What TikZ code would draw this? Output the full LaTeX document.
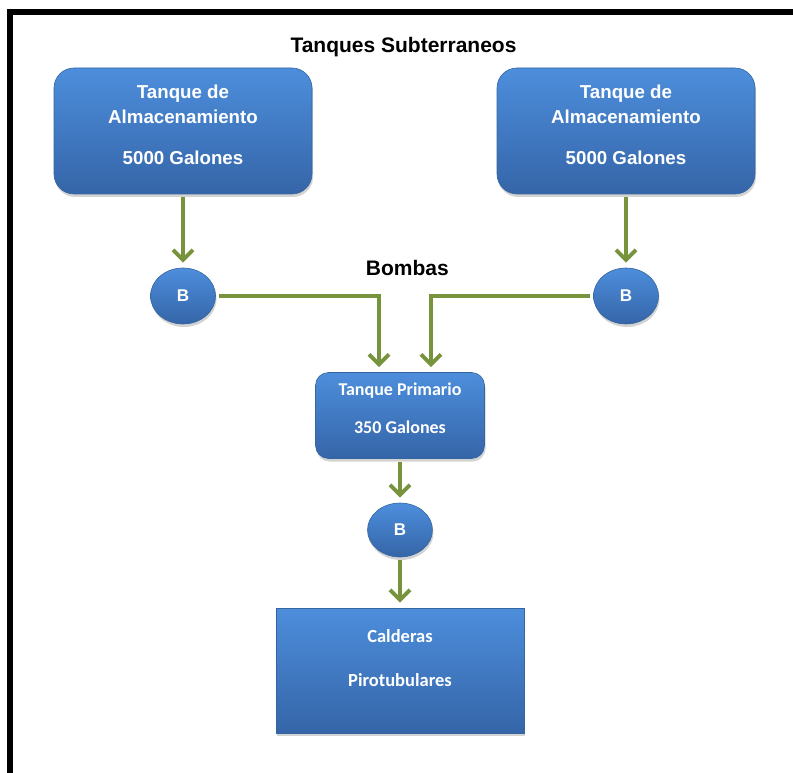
\documentclass[tikz,border=0pt]{standalone}
\usepackage{fontspec}
\setmainfont{Liberation Sans}
\newfontfamily\calibri{Carlito}
\usetikzlibrary{arrows.meta,shapes.geometric,shadows}
\definecolor{azulclaro}{HTML}{4D8EDC}
\definecolor{azuloscuro}{HTML}{3565A8}
\definecolor{azulborde}{HTML}{35659F}
\definecolor{verdetubo}{HTML}{77933C}

\begin{document}
\begin{tikzpicture}[x=1pt,y=-1pt,
        caja/.style={draw=azulborde,line width=0.6pt,top color=azulclaro,bottom color=azuloscuro,drop shadow={opacity=0.35,shadow xshift=1pt,shadow yshift=-3pt}},
        tanque/.style={caja,rounded corners=20pt,minimum width=258pt,minimum height=126pt},
        tanquechico/.style={caja,rounded corners=13pt,minimum width=169pt,minimum height=86pt},
        caldera/.style={caja,minimum width=248pt,minimum height=125pt},
        bomba/.style={caja,ellipse,minimum width=65pt,minimum height=56pt,inner sep=0pt,text=white,font=\bfseries\fontsize{17}{17}\selectfont},
        rotulo/.style={text=white,align=center,inner sep=0pt},
        titulo/.style={font=\bfseries\fontsize{21}{21}\selectfont,inner sep=0pt,anchor=base},
        tubo/.style={draw=verdetubo,line width=4pt,-{Straight Barb[length=10pt,width=20pt]},shorten >=5pt,shorten <=3pt}]
        \useasboundingbox (0,0) rectangle (793,773);
        \draw [black,line width=6pt] (9.7,773)--(9.7,12.2)--(793,12.2);
        \node[titulo] (subterraneos) at (403.5,52.3) {Tanques Subterraneos};
        \node[tanque] (tanqueA) at (183,131) {};
        \node[tanque] (tanqueB) at (626,131) {};
        \node[rotulo,font=\bfseries\fontsize{18.7}{25}\selectfont] (textoA) at (183,124.7) {Tanque de\\Almacenamiento\\[16.7pt]5000 Galones};
        \node[rotulo,font=\bfseries\fontsize{18.7}{25}\selectfont] (textoB) at (626,124.7) {Tanque de\\Almacenamiento\\[16.7pt]5000 Galones};
        \node[titulo] (bombas) at (407.3,275) {Bombas};
        \node[bomba] (bombaA) at (183,296) {B};
        \node[bomba] (bombaB) at (626,296) {B};
        \node[tanquechico] (primario) at (400,415.5) {};
        \node[rotulo,font=\calibri\bfseries\fontsize{18}{37.5}\selectfont] (textoP) at (400,408) {Tanque Primario\\350 Galones};
        \node[bomba,minimum height=54pt] (bombaC) at (400,530) {B};
        \node[caldera] (calderas) at (400,670.5) {};
        \node[rotulo,font=\calibri\bfseries\fontsize{18.5}{44}\selectfont] (textoC) at (400,657.6) {Calderas\\Pirotubulares};
        \draw [tubo] (tanqueA)--(bombaA);
        \draw [tubo] (tanqueB)--(bombaB);
        \draw [tubo] (bombaA.east)-|([xshift=-21pt]primario.north);
        \draw [tubo] (bombaB.west)-|([xshift=31pt]primario.north);
        \draw [tubo] (primario)--(bombaC);
        \draw [tubo] (bombaC)--(calderas);
    \end{tikzpicture}
\end{document}
